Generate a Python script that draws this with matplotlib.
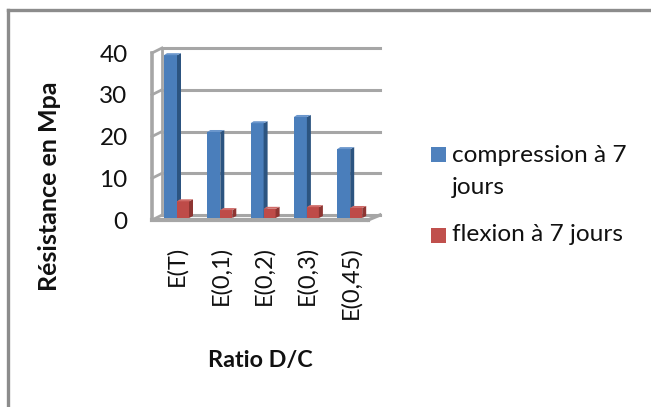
import matplotlib.pyplot as plt
from matplotlib.patches import Polygon, Rectangle

# Dataset values
categories = ['E(T)', 'E(0,1)', 'E(0,2)', 'E(0,3)', 'E(0,45)']
compression = [39.0, 20.6, 22.7, 24.2, 16.5]
flexion = [4.0, 1.9, 2.2, 2.6, 2.4]
yticks = [0, 10, 20, 30, 40]

W, H = 651, 407
plt.rcParams['font.family'] = ['Lato', 'DejaVu Sans']
fig = plt.figure(figsize=(W / 100, H / 100), dpi=100)

# fake 3D look: pixel positions of the front plane
left, right, y0, y40 = 152, 368, 218, 51
ax = fig.add_axes([left / W, 1 - y0 / H, (right - left) / W, (y0 - y40) / H])
ax.set_ylim(0, 40)
ax.set_xlim((left - 177) / 43.3, (right - 177) / 43.3)
ax.axis('off')

px = 1 / 43.3          # one pixel in x units
py = 40 / (y0 - y40)   # one pixel in y units
grey = '#A6A6A6'


def wall(xs, ys, lw=2.6, z=1):
    ax.plot(xs, ys, color=grey, lw=lw, clip_on=False, zorder=z, solid_capstyle='projecting')


x_l, x_r = ax.get_xlim()
dx, dy = 10 * px, 5 * py
base = -2 * py
for t in yticks:
    wall([x_l + dx, x_r + 12 * px], [t + base + dy, t + base + dy], lw=2.2)
    wall([x_l, x_l + dx], [t + base, t + base + dy], lw=2)
wall([x_l, x_l], [base, 40 + base])
wall([x_l + dx, x_l + dx], [base + dy, 40 + base + dy], lw=2)
wall([x_l, x_r], [base, base], lw=3)
wall([x_r, x_r + 12 * px], [base, base + dy], lw=2.4)


def bars3d(xpos, values, width, front, side, top):
    ax.bar(xpos, values, width=width, align='edge', color=front, zorder=3, clip_on=False)
    for x, v in zip(xpos, values):
        ax.add_patch(Polygon([(x + width, 0), (x + width + 4 * px, 2 * py), (x + width + 4 * px, v + 2 * py), (x + width, v)],
                             color=side, lw=0, zorder=3, clip_on=False))
        ax.add_patch(Polygon([(x, v), (x + 3 * px, v + 2 * py), (x + width + 4 * px, v + 2 * py), (x + width, v)],
                             color=top, lw=0, zorder=3, clip_on=False))


pos = list(range(len(categories)))
bars3d([p - 13 * px for p in pos], compression, 13 * px, '#4A7EBB', '#2C5480', '#6A96CC')
bars3d([p for p in pos], flexion, 12 * px, '#BE4B48', '#8E3532', '#CF6A67')

# tick labels
for t in yticks:
    ax.text(-1.14, t - 1.0, str(t), fontsize=17.5, ha='right', va='center', color='#111111', clip_on=False)
for p, c in zip(pos, categories):
    ax.annotate(c, xy=(p, 0), xytext=(0, -28), textcoords='offset pixels', rotation=90,
                fontsize=17, ha='center', va='top', color='#111111', annotation_clip=False)

# axis titles
fig.text(50 / W, 1 - 186 / H, 'Résistance en Mpa', rotation=90, fontsize=18, fontweight='bold',
         ha='center', va='center', color='#111111')
fig.text(260 / W, 1 - 361 / H, 'Ratio D/C', fontsize=16.8, fontweight='bold',
         ha='center', va='center', color='#111111')

# legend
fig.add_artist(Rectangle((431 / W, 1 - 162 / H), 15 / W, 15 / H, color='#4F81BD', lw=0, transform=fig.transFigure))
fig.add_artist(Rectangle((431 / W, 1 - 243 / H), 15 / W, 15 / H, color='#C0504D', lw=0, transform=fig.transFigure))
fig.text(452 / W, 1 - 155 / H, 'compression à 7', fontsize=17.6, va='center', color='#111111')
fig.text(452 / W, 1 - 187 / H, 'jours', fontsize=17.6, va='center', color='#111111')
fig.text(452 / W, 1 - 235 / H, 'flexion à 7 jours', fontsize=17.6, va='center', color='#111111')

# outer frame, only top and left visible
frame = '#8C8C8C'
fig.add_artist(plt.Line2D([7.5 / W, 1], [1 - 10 / H, 1 - 10 / H], color=frame, lw=2.4, transform=fig.transFigure))
fig.add_artist(plt.Line2D([7.5 / W, 7.5 / W], [0, 1 - 10 / H], color=frame, lw=2.4, transform=fig.transFigure))

fig.savefig('out.png', dpi=100)
